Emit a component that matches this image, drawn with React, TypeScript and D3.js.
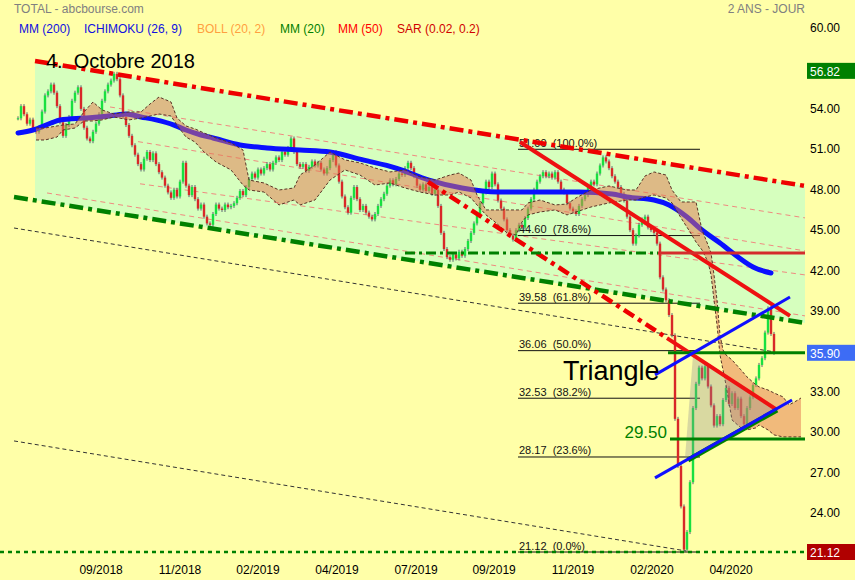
import { useEffect, useRef } from "react";
import * as d3 from "d3";

// cours de clôture (un point toutes les ~2 séances)
const closes = [
  53.3, 54.2, 53.6, 52.9, 53.2, 52.5, 52.3, 52.6, 53.8, 55.0,
  55.3, 55.8, 55.2, 54.2, 53.0, 52.0, 52.8, 53.4, 54.6, 55.2,
  55.6, 54.0, 52.6, 51.8, 51.6, 52.3, 52.9, 53.6, 54.6, 55.3,
  55.8, 56.1, 56.6, 56.2, 55.0, 53.4, 52.8, 52.0, 51.3, 50.6,
  49.9, 49.5, 50.3, 50.8, 50.2, 50.7, 49.9, 49.3, 48.9, 48.3,
  47.8, 47.4, 48.0, 47.5, 48.6, 50.0, 48.3, 47.6, 48.2, 47.3,
  46.6, 46.9, 46.0, 45.5, 45.4, 46.2, 46.9, 46.6, 46.5, 46.9,
  46.7, 46.8, 47.0, 47.4, 47.9, 47.6, 48.2, 48.8, 49.2, 48.9,
  49.5, 49.2, 49.6, 49.9, 49.5, 50.0, 50.4, 50.2, 50.8, 50.6,
  51.1, 51.8, 50.8, 49.9, 49.7, 49.9, 49.4, 49.7, 50.1, 49.8,
  50.0, 49.5, 49.2, 49.6, 50.2, 50.8, 49.8, 48.6, 47.5, 46.7,
  46.3, 47.4, 48.2, 47.3, 46.5, 46.8, 46.3, 46.0, 45.8, 46.2,
  46.8, 47.3, 47.7, 48.3, 48.7, 48.4, 48.8, 49.2, 49.1, 49.6,
  50.0, 49.6, 49.0, 48.3, 48.0, 48.4, 47.9, 48.2, 47.7, 48.0,
  46.8, 44.8, 43.6, 43.0, 42.8, 43.2, 42.9, 43.4, 43.1, 43.6,
  44.2, 44.8, 45.5, 46.2, 47.0, 47.8, 48.6, 48.2, 49.2, 48.4,
  47.2, 46.6, 45.8, 45.0, 44.6, 44.3, 45.0, 45.4, 45.2, 45.9,
  46.6, 47.3, 48.0, 48.6, 49.0, 49.3, 49.0, 49.2, 48.9, 49.3,
  48.6, 48.0, 47.8, 47.0, 46.6, 46.4, 46.2, 46.8, 47.3, 47.6,
  48.2, 48.6, 48.4, 49.2, 49.8, 50.4, 50.1, 49.6, 49.0, 48.6,
  48.2, 47.7, 47.2, 46.0, 45.0, 44.0, 44.6, 45.4, 45.8, 46.0,
  45.2, 45.0, 44.8, 44.0, 41.5, 40.6, 39.8, 38.7, 37.2, 31.0,
  27.5, 24.5, 21.3, 22.6, 26.3, 31.8, 33.6, 34.8, 34.0, 34.9,
  33.4, 32.0, 30.5, 31.2, 30.6, 32.4, 33.3, 32.1, 32.9, 31.8,
  32.5, 31.2, 30.6, 31.8, 32.6, 33.5, 34.0, 35.0, 35.5, 37.4,
  39.2, 37.3, 35.9
];

// MM 200
const mmIdx = [0, 5, 11, 14, 22, 27, 33, 36, 41, 46, 52, 56, 61, 65, 74, 83, 94, 104, 115, 126,
  137, 148, 160, 171, 187, 198, 203, 212, 217, 223, 228, 234, 240, 245, 251];
const mmVal = [52.21, 52.43, 52.95, 53.18, 53.32, 53.40, 53.55, 53.62, 53.40, 53.18, 52.80, 52.43,
  52.06, 51.84, 51.32, 51.10, 50.95, 50.80, 50.21, 49.61, 48.72, 48.13, 47.83, 47.83, 47.83, 47.69,
  47.46, 47.24, 46.87, 45.98, 45.01, 44.05, 43.01, 42.27, 41.82];

// nuage ichimoku
const cloudIdx = [6, 9, 13, 15, 19, 22, 25, 28, 32, 37, 41, 44, 47, 51, 53, 56, 59, 62, 66, 71,
  75, 77, 82, 87, 92, 94, 99, 104, 109, 114, 119, 124, 129, 134, 139, 144, 147, 151, 153, 156,
  159, 163, 166, 168, 170, 174, 179, 183, 186, 191, 197, 203, 206, 209, 212, 216, 218, 221, 224, 226,
  228, 230, 231, 232, 233, 234, 235, 236, 238, 241, 243, 246, 247, 250, 252, 255, 257, 260, 261];
const spanA = [52.58, 52.58, 52.73, 52.80, 52.88, 53.77, 54.51, 53.92, 53.62, 53.77, 53.77, 54.36,
  54.88, 54.51, 53.32, 52.73, 52.51, 52.21, 51.84, 51.47, 50.95, 48.72, 48.50, 47.98, 48.13, 49.09,
  49.84, 50.80, 50.21, 49.99, 49.61, 49.32, 49.47, 48.95, 48.72, 49.09, 49.24, 48.72, 47.61, 46.50,
  46.50, 46.50, 46.50, 46.50, 47.02, 47.24, 46.87, 46.94, 47.39, 47.98, 48.28, 47.98, 47.98, 49.02,
  49.32, 49.09, 47.98, 47.09, 47.09, 47.09, 45.01, 43.90, 43.31, 41.68, 39.82, 37.23, 36.11, 35.74,
  35.37, 34.63, 34.11, 33.52, 33.37, 33.14, 32.92, 32.63, 32.03, 32.40, 32.55];
const spanB = [51.69, 51.69, 51.91, 52.43, 52.58, 53.10, 53.10, 53.18, 53.40, 53.18, 53.32, 53.47,
  53.62, 53.47, 52.80, 51.91, 51.54, 50.80, 50.06, 49.47, 48.35, 47.98, 47.83, 46.87, 47.24, 46.87,
  47.24, 48.72, 49.47, 49.09, 48.35, 48.50, 48.13, 47.83, 47.61, 47.61, 47.83, 47.39, 46.87, 46.13,
  45.61, 44.79, 44.64, 45.61, 46.13, 46.35, 46.50, 46.13, 46.35, 46.72, 47.02, 47.24, 47.24, 47.46,
  47.61, 47.39, 47.02, 45.91, 44.87, 44.12, 43.53, 42.64, 41.68, 39.82, 37.97, 35.74, 34.63, 33.52,
  30.92, 30.33, 30.18, 30.33, 30.55, 30.18, 29.81, 29.66, 29.66, 29.66, 29.66];

const monthIdx = [27.7, 54, 80, 106.3, 132.7, 158.7, 185, 211.3, 237.7];
const monthLabels = ["09/2018", "11/2018", "02/2019", "04/2019", "07/2019", "09/2019", "11/2019", "02/2020", "04/2020"];
const priceTicks = [60, 57, 54, 51, 48, 45, 42, 39, 36, 33, 30, 27, 24];

const fibLevels = [51.0, 44.6, 39.58, 36.06, 32.53, 28.17, 21.12];
const fibPct = ["100.0%", "78.6%", "61.8%", "50.0%", "38.2%", "23.6%", "0.0%"];

const legendNames = ["MM (200)", "ICHIMOKU (26, 9)", "BOLL (20, 2)", "MM (20)", "MM (50)", "SAR (0.02, 0.2)"];
const legendColors = ["#1010e0", "#1010e0", "#ffa040", "#008000", "#ff0000", "#d00000"];
const legendX = [19, 84, 197, 280, 338, 397];

// lignes tracées (indice de séance, cours)
const chanTop: [number, number][] = [[5.67, 57.55], [262.33, 48.28]];
const chanBot: [number, number][] = [[-1.33, 47.46], [262.33, 38.12]];
const pinkLines: [number, number][][] = [
  [[9.67, 47.76], [262.33, 38.64]],
  [[30.67, 54.14], [262.33, 45.91]],
  [[40.67, 48.44], [262.33, 41.68]],
  [[40, 51.57], [262.33, 43.46]]
];
const blackDashed: [number, number][][] = [
  [[-1.33, 45.16], [252.33, 35.96]],
  [[-1.33, 29.36], [222.67, 21.2]]
];
const redDiag: [number, number][] = [[136.67, 48.58], [253, 31.66]];
const redSolid: [number, number][] = [[167.33, 51.54], [257.33, 38.64]];
const blueUp: [number, number][] = [[212.33, 34.26], [257.33, 40.04]];
const blueLow: [number, number][] = [[212.33, 26.62], [258, 32.4]];
const greenUp: [number, number][] = [[223.33, 27.95], [253, 31.66]];
const triangle: [number, number][] = [[222.33, 28.1], [225, 35.74], [253.33, 31.66]];

const at = (l: [number, number][], i: number) =>
  l[0][1] + (l[1][1] - l[0][1]) * (i - l[0][0]) / (l[1][0] - l[0][0]);

const FONT = "Liberation Sans, Arial, sans-serif";

const App = () => {
  const svgRef = useRef<SVGSVGElement | null>(null);

  useEffect(() => {
    const svg = d3.select(svgRef.current);
    svg.selectAll("*").remove();
    const width = 855, height = 580;
    svg.attr("width", width).attr("height", height);

    const x = d3.scaleLinear().domain([-6, 262.33]).range([0, 805]);
    const y = d3.scaleLinear().domain([21.12, 60]).range([552, 28]);
    const line = d3.line<[number, number]>().x(d => x(d[0])).y(d => y(d[1]));

    svg.append("rect").attr("width", width).attr("height", height).attr("fill", "#ffffa8");

    // canal vert
    const i0 = 5.67, i1 = 262.33;
    const chan: [number, number][] = [[i0, at(chanTop, i0)], [i1, at(chanTop, i1)], [i1, at(chanBot, i1)], [i0, at(chanBot, i0)]];
    svg.append("path").attr("d", line(chan) + "Z").attr("fill", "#d6ffbe");

    // lignes fines
    pinkLines.forEach(l => svg.append("path").attr("d", line(l)).attr("stroke", "#f08a80")
      .attr("stroke-width", 1).attr("stroke-dasharray", "5,4").attr("fill", "none"));
    blackDashed.forEach(l => svg.append("path").attr("d", line(l)).attr("stroke", "#333")
      .attr("stroke-width", 1).attr("stroke-dasharray", "4,3").attr("fill", "none"));

    // fibonacci
    fibLevels.forEach((lv, k) => {
      svg.append("line").attr("x1", x(166.67)).attr("x2", x(227.33))
        .attr("y1", y(lv)).attr("y2", y(lv)).attr("stroke", "#111").attr("stroke-width", 1);
      svg.append("text").attr("x", x(167)).attr("y", y(lv) - 2.5)
        .attr("font-family", FONT).attr("font-size", 11).attr("fill", "#111")
        .style("white-space", "pre")
        .text(`${lv.toFixed(2)}  (${fibPct[k]})`);
    });

    // bougies
    const candles = svg.append("g");
    closes.forEach((c, i) => {
      const o = i ? closes[i - 1] : c;
      const hi = Math.max(o, c), lo = Math.min(o, c);
      candles.append("line").attr("x1", x(i)).attr("x2", x(i))
        .attr("y1", y(hi) - 2).attr("y2", y(lo) + 2).attr("stroke", "#56606e").attr("stroke-width", 1);
      candles.append("rect").attr("x", x(i) - 1.2).attr("width", 2.4)
        .attr("y", y(hi)).attr("height", Math.max(1, y(lo) - y(hi)))
        .attr("fill", c >= o ? "#18e040" : "#d82828");
    });

    // MM200
    const mm = mmIdx.map((d, k) => [d, mmVal[k]] as [number, number]);
    svg.append("path").attr("d", line.curve(d3.curveMonotoneX)(mm))
      .attr("stroke", "#0a10ff").attr("stroke-width", 5).attr("fill", "none")
      .attr("stroke-linecap", "round");
    line.curve(d3.curveLinear);

    // nuage
    const cloud = cloudIdx.map((d, k) => ({ i: d, a: spanA[k], b: spanB[k] }));
    const area = d3.area<{ i: number; a: number; b: number }>()
      .x(d => x(d.i)).y0(d => y(d.b)).y1(d => y(d.a));
    svg.append("path").attr("d", area(cloud)).attr("fill", "rgb(228,118,78)").attr("opacity", 0.5);
    [spanA, spanB].forEach(s => {
      svg.append("path").attr("d", line(cloudIdx.map((d, k) => [d, s[k]] as [number, number])))
        .attr("stroke", "#5a3528").attr("stroke-width", 1).attr("stroke-dasharray", "3,2").attr("fill", "none");
    });

    // triangle
    svg.append("path").attr("d", line(triangle) + "Z").attr("fill", "rgb(140,140,150)").attr("opacity", 0.33);

    // lignes de tendance
    const draw = (l: [number, number][], color: string, w: number, dash?: string) => {
      const p = svg.append("path").attr("d", line(l)).attr("stroke", color)
        .attr("stroke-width", w).attr("fill", "none");
      if (dash) p.attr("stroke-dasharray", dash);
    };
    draw(chanTop, "#ee0000", 4.5, "14,5,4,5");
    draw(chanBot, "#008000", 4.5, "14,5,4,5");
    draw([redDiag[0], [216.33, at(redDiag, 216.33)]], "#ee0000", 4.5, "12,5,4,5");
    draw([[216.33, at(redDiag, 216.33)], redDiag[1]], "#ee1111", 4);
    draw(redSolid, "#ee1111", 4);
    draw([[129, 43.3], [213.33, 43.3]], "#008000", 3, "10,4,3,4");
    draw([[213.33, 43.3], [262.33, 43.3]], "#d42c2c", 3);
    draw([[-6, 21.12], [262.33, 21.12]], "#008000", 2.5, "4,4");
    draw([[216.67, 35.9], [262.33, 35.9]], "#008000", 3);
    draw([[217.33, 29.5], [262.33, 29.5]], "#008000", 3);
    draw(greenUp, "#008000", 5);
    draw(blueUp, "#1010ff", 3);
    draw(blueLow, "#1010ff", 3);

    // textes
    const txt = (t: string, tx: number, ty: number, size: number, color: string, anchor = "start") =>
      svg.append("text").attr("x", tx).attr("y", ty).attr("font-family", FONT)
        .attr("font-size", size).attr("fill", color).attr("text-anchor", anchor)
        .style("white-space", "pre").text(t);

    txt("TOTAL - abcbourse.com", 14, 13, 12, "#808080");
    txt("2 ANS - JOUR", 805, 13, 12, "#808080", "end");
    legendNames.forEach((n, k) => txt(n, legendX[k], 33, 12, legendColors[k]));
    txt("4.  Octobre 2018", 46, 68, 20, "#000");
    txt("Triangle", 563, 380, 27, "#000");
    txt("29.50", 667, 438, 17, "#008000", "end");

    // axe des prix
    priceTicks.forEach(p => txt(p.toFixed(2), 810, y(p) + 4, 12, "#000"));
    const box = (v: number, color: string) => {
      svg.append("rect").attr("x", 807).attr("y", y(v) - 8).attr("width", 48).attr("height", 16).attr("fill", color);
      txt(v.toFixed(2), 810, y(v) + 5, 12, "#fff");
    };
    box(56.82, "#008000");
    box(35.9, "#3d6cf5");
    box(21.12, "#b00000");

    // axe du temps
    monthIdx.forEach((m, k) => txt(monthLabels[k], x(m), 574, 12, "#000", "middle"));
  }, []);

  return (
    <div style={{ position: "absolute", left: 0, top: 0 }}>
      <svg ref={svgRef}></svg>
    </div>
  );
};

export default App;
